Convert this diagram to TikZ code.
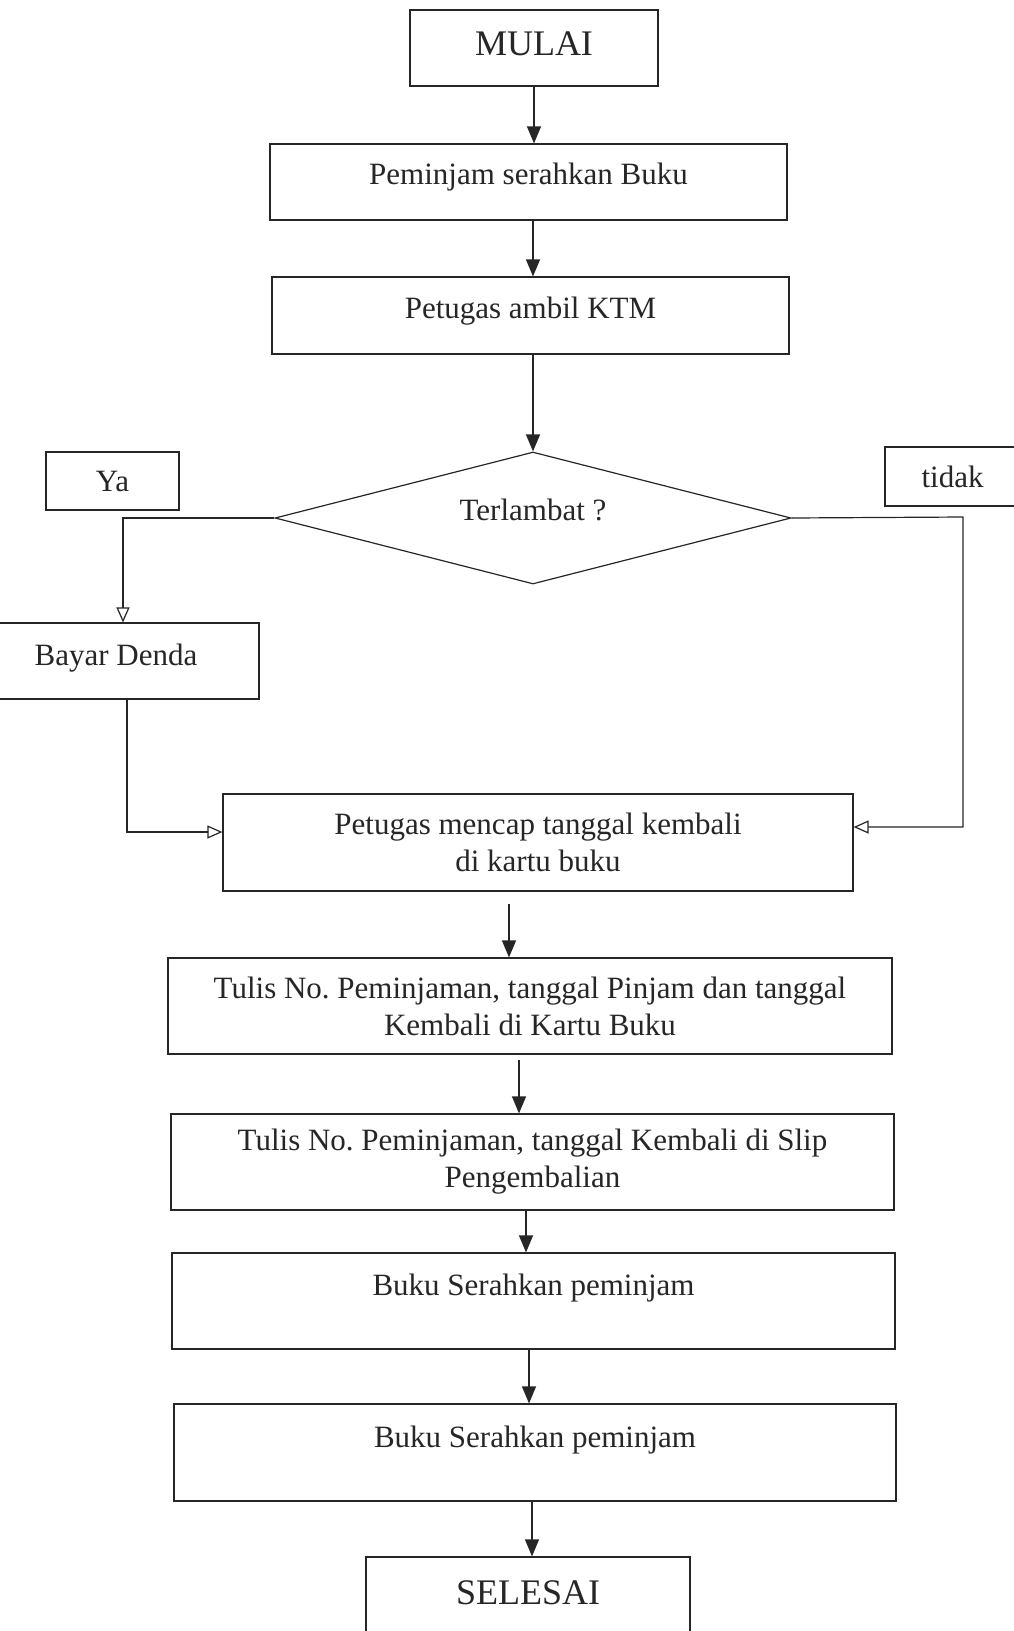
\documentclass[tikz,border=0pt]{standalone}
\usepackage{fontspec}
\setmainfont{Liberation Serif}
\usetikzlibrary{shapes.geometric,arrows.meta}
\frenchspacing
\begin{document}
\begin{tikzpicture}[x=1pt,y=-1pt,
  every node/.style={font=\fontsize{31}{37}\selectfont, text=black!85},
  box/.style={draw=black!85, line width=1.2pt, inner sep=0pt, align=center},
  term/.style={box, font=\fontsize{36}{42}\selectfont},
  decision/.style={draw=black!85, line width=1.2pt, diamond, inner sep=0pt, shape aspect=3.9},
  line/.style={draw=black!85, line width=1.2pt},
  arr/.style={line, -{Triangle[length=17pt,width=14pt]}},
  arropen/.style={line, -{Triangle[open,length=15pt,width=13pt,line width=1.2pt]}}]
\useasboundingbox (0,0) rectangle (1014,1631);
\clip (0,0) rectangle (1014,1631);
\fill[white] (0,0) rectangle (1014,1631);

% process boxes
\node[term, minimum width=248pt, minimum height=76pt, text depth=8pt] (mulai) at (534,48) {MULAI};
\node[box, minimum width=517pt, minimum height=76pt, text depth=17pt] (pinjam) at (528.5,182) {Peminjam serahkan Buku};
\node[box, minimum width=517pt, minimum height=77pt, text depth=16pt] (ktm) at (530.5,315.5) {Petugas ambil KTM};
\node[decision, minimum width=516pt, minimum height=132pt, text depth=16pt] (cek) at (533,518) {Terlambat ?};
\node[box, minimum width=133pt, minimum height=58pt] (ya) at (112.5,481) {Ya};
\node[box, minimum width=135pt, minimum height=59pt] (tidak) at (952.5,476.5) {tidak};
\node[box, minimum width=286pt, minimum height=76pt, text depth=12.5pt] (bayar) at (116,661) {Bayar Denda};
\node[box, minimum width=630pt, minimum height=97pt] (mencap) at (538,842.5) {Petugas mencap tanggal kembali\\di kartu buku};
\node[box, minimum width=724pt, minimum height=96pt] (tulisA) at (530,1006) {Tulis No. Peminjaman, tanggal Pinjam dan tanggal\\Kembali di Kartu Buku};
\node[box, minimum width=723pt, minimum height=96pt] (tulisB) at (532.5,1162) {Tulis No. Peminjaman, tanggal Kembali di Slip\\Pengembalian};
\node[box, minimum width=723pt, minimum height=96pt, text depth=32pt] (bukuA) at (533.5,1301) {Buku Serahkan peminjam};
\node[box, minimum width=722pt, minimum height=97pt, text depth=32pt] (bukuB) at (535,1452.5) {Buku Serahkan peminjam};
\node[term, minimum width=324pt, minimum height=80pt, text depth=8pt] (selesai) at (528,1597) {SELESAI};

% main flow
\draw[arr] (mulai.south) -- (mulai.south |- pinjam.north);
\draw[arr] ([xshift=4.5pt]pinjam.south) -- ([xshift=4.5pt]pinjam.south |- ktm.north);
\draw[arr] (cek.north |- ktm.south) -- (cek.north);

% branches of the decision
\draw[arropen] (cek.west) -| ([xshift=7pt]bayar.north);
\draw[arropen] ([xshift=11pt]bayar.south) |- ([yshift=10.5pt]mencap.west);
\coordinate (tidakturn) at (963,517);
\draw[arropen] (cek.east) -- (tidakturn) |- ([yshift=15.5pt]mencap.east);

% lower flow
\draw[arr] ([xshift=-29pt,yshift=-12pt]mencap.south) -- ([xshift=-29pt]mencap.south |- tulisA.north);
\draw[arr] ([xshift=-11pt,yshift=-5pt]tulisA.south) -- ([xshift=-11pt]tulisA.south |- tulisB.north);
\draw[arr] ([xshift=-6.5pt]tulisB.south) -- ([xshift=-6.5pt]tulisB.south |- bukuA.north);
\draw[arr] ([xshift=-4.5pt]bukuA.south) -- ([xshift=-4.5pt]bukuA.south |- bukuB.north);
\draw[arr] ([xshift=-3pt]bukuB.south) -- ([xshift=-3pt]bukuB.south |- selesai.north);
\end{tikzpicture}
\end{document}
